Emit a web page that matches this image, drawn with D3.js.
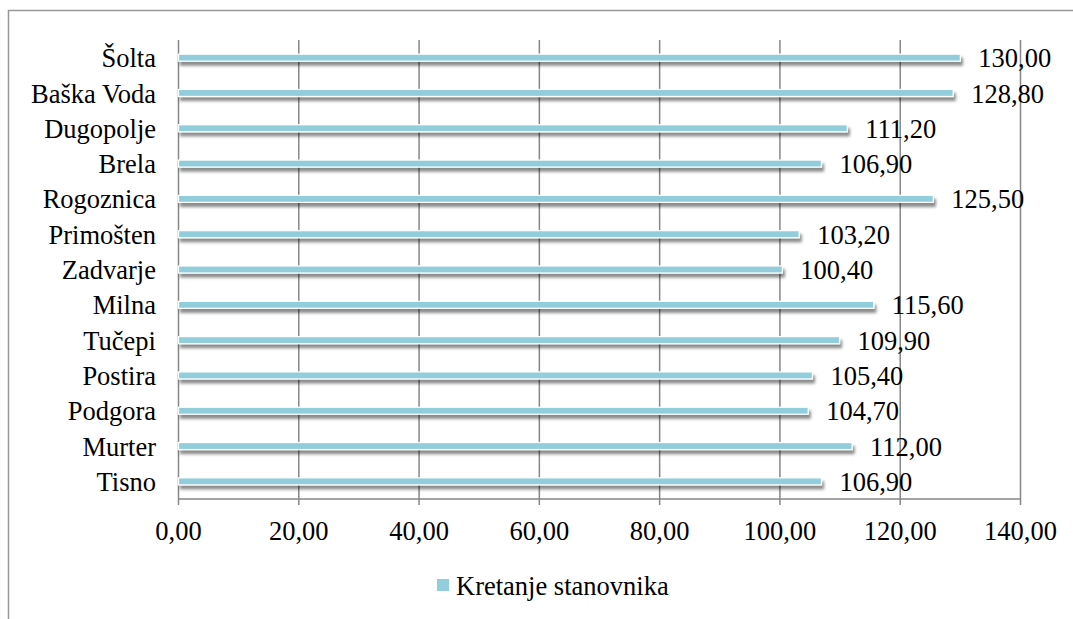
<!DOCTYPE html>
<html><head><meta charset="utf-8">
<script src="https://cdn.jsdelivr.net/npm/d3@7"></script>
<style>body{margin:0;background:#fff}svg{display:block}</style>
</head><body><svg id="c" width="1073" height="619"></svg>
<script>
const categories = ["Šolta","Baška Voda","Dugopolje","Brela","Rogoznica","Primošten","Zadvarje","Milna","Tučepi","Postira","Podgora","Murter","Tisno"];
const values = [130.00,128.80,111.20,106.90,125.50,103.20,100.40,115.60,109.90,105.40,104.70,112.00,106.90];
const xTicks = [0,20,40,60,80,100,120,140];
const seriesName = "Kretanje stanovnika";

const FONT = '"Liberation Serif", "Times New Roman", serif';
const FS = "26.5px";
const svg = d3.select("#c");
const fmt = v => v.toFixed(2).replace(".", ",");
const x = d3.scaleLinear().domain([0,140]).range([178.5,1020.5]);
const y = d3.scaleBand().domain(categories).range([40,499]).padding(0);

const defs = svg.append("defs");
const f = defs.append("filter").attr("id","sh").attr("x","-5%").attr("y","-100%").attr("width","110%").attr("height","400%");
f.append("feDropShadow").attr("dx",2).attr("dy",4).attr("stdDeviation",1.6).attr("flood-color","#000").attr("flood-opacity",0.45);

// outer frame
svg.append("path").attr("d","M8.5,619V10.5H1073").attr("fill","none").attr("stroke","#999").attr("stroke-width",1.5);

// gridlines
svg.append("g").selectAll("line").data(xTicks).join("line")
  .attr("x1",d=>x(d)).attr("x2",d=>x(d)).attr("y1",40).attr("y2",505)
  .attr("stroke","#878787").attr("stroke-width",1.5);
// bottom axis line
svg.append("line").attr("x1",x(0)).attr("x2",x(140)).attr("y1",499).attr("y2",499)
  .attr("stroke","#878787").attr("stroke-width",1.5);

// tick labels
svg.append("g").selectAll("text").data(xTicks).join("text")
  .attr("x",d=>x(d)).attr("y",540).attr("text-anchor","middle")
  .style("font-family",FONT).style("font-size",FS).text(d=>fmt(d));

// category labels
svg.append("g").selectAll("text").data(categories).join("text")
  .attr("x",156).attr("y",d=>y(d)+y.bandwidth()/2+9.6).attr("text-anchor","end")
  .style("font-family",FONT).style("font-size",FS).text(d=>d);

// bars
const bh = 7;
svg.append("g").attr("filter","url(#sh)").selectAll("rect").data(values).join("rect")
  .attr("x",x(0)).attr("y",(d,i)=>y(categories[i])+y.bandwidth()/2-bh/2)
  .attr("width",d=>x(d)-x(0)).attr("height",bh)
  .attr("fill","#92CDDC").attr("stroke","#fff").attr("stroke-width",1.2);

// value labels
svg.append("g").selectAll("text").data(values).join("text")
  .attr("x",d=>x(d)+18).attr("y",(d,i)=>y(categories[i])+y.bandwidth()/2+9.6)
  .style("font-family",FONT).style("font-size",FS).text(d=>fmt(d));

// legend
svg.append("rect").attr("x",437).attr("y",579).attr("width",12).attr("height",12).attr("fill","#92CDDC");
svg.append("text").attr("x",456).attr("y",595)
  .style("font-family",FONT).style("font-size",FS).text(seriesName);
</script></body></html>
